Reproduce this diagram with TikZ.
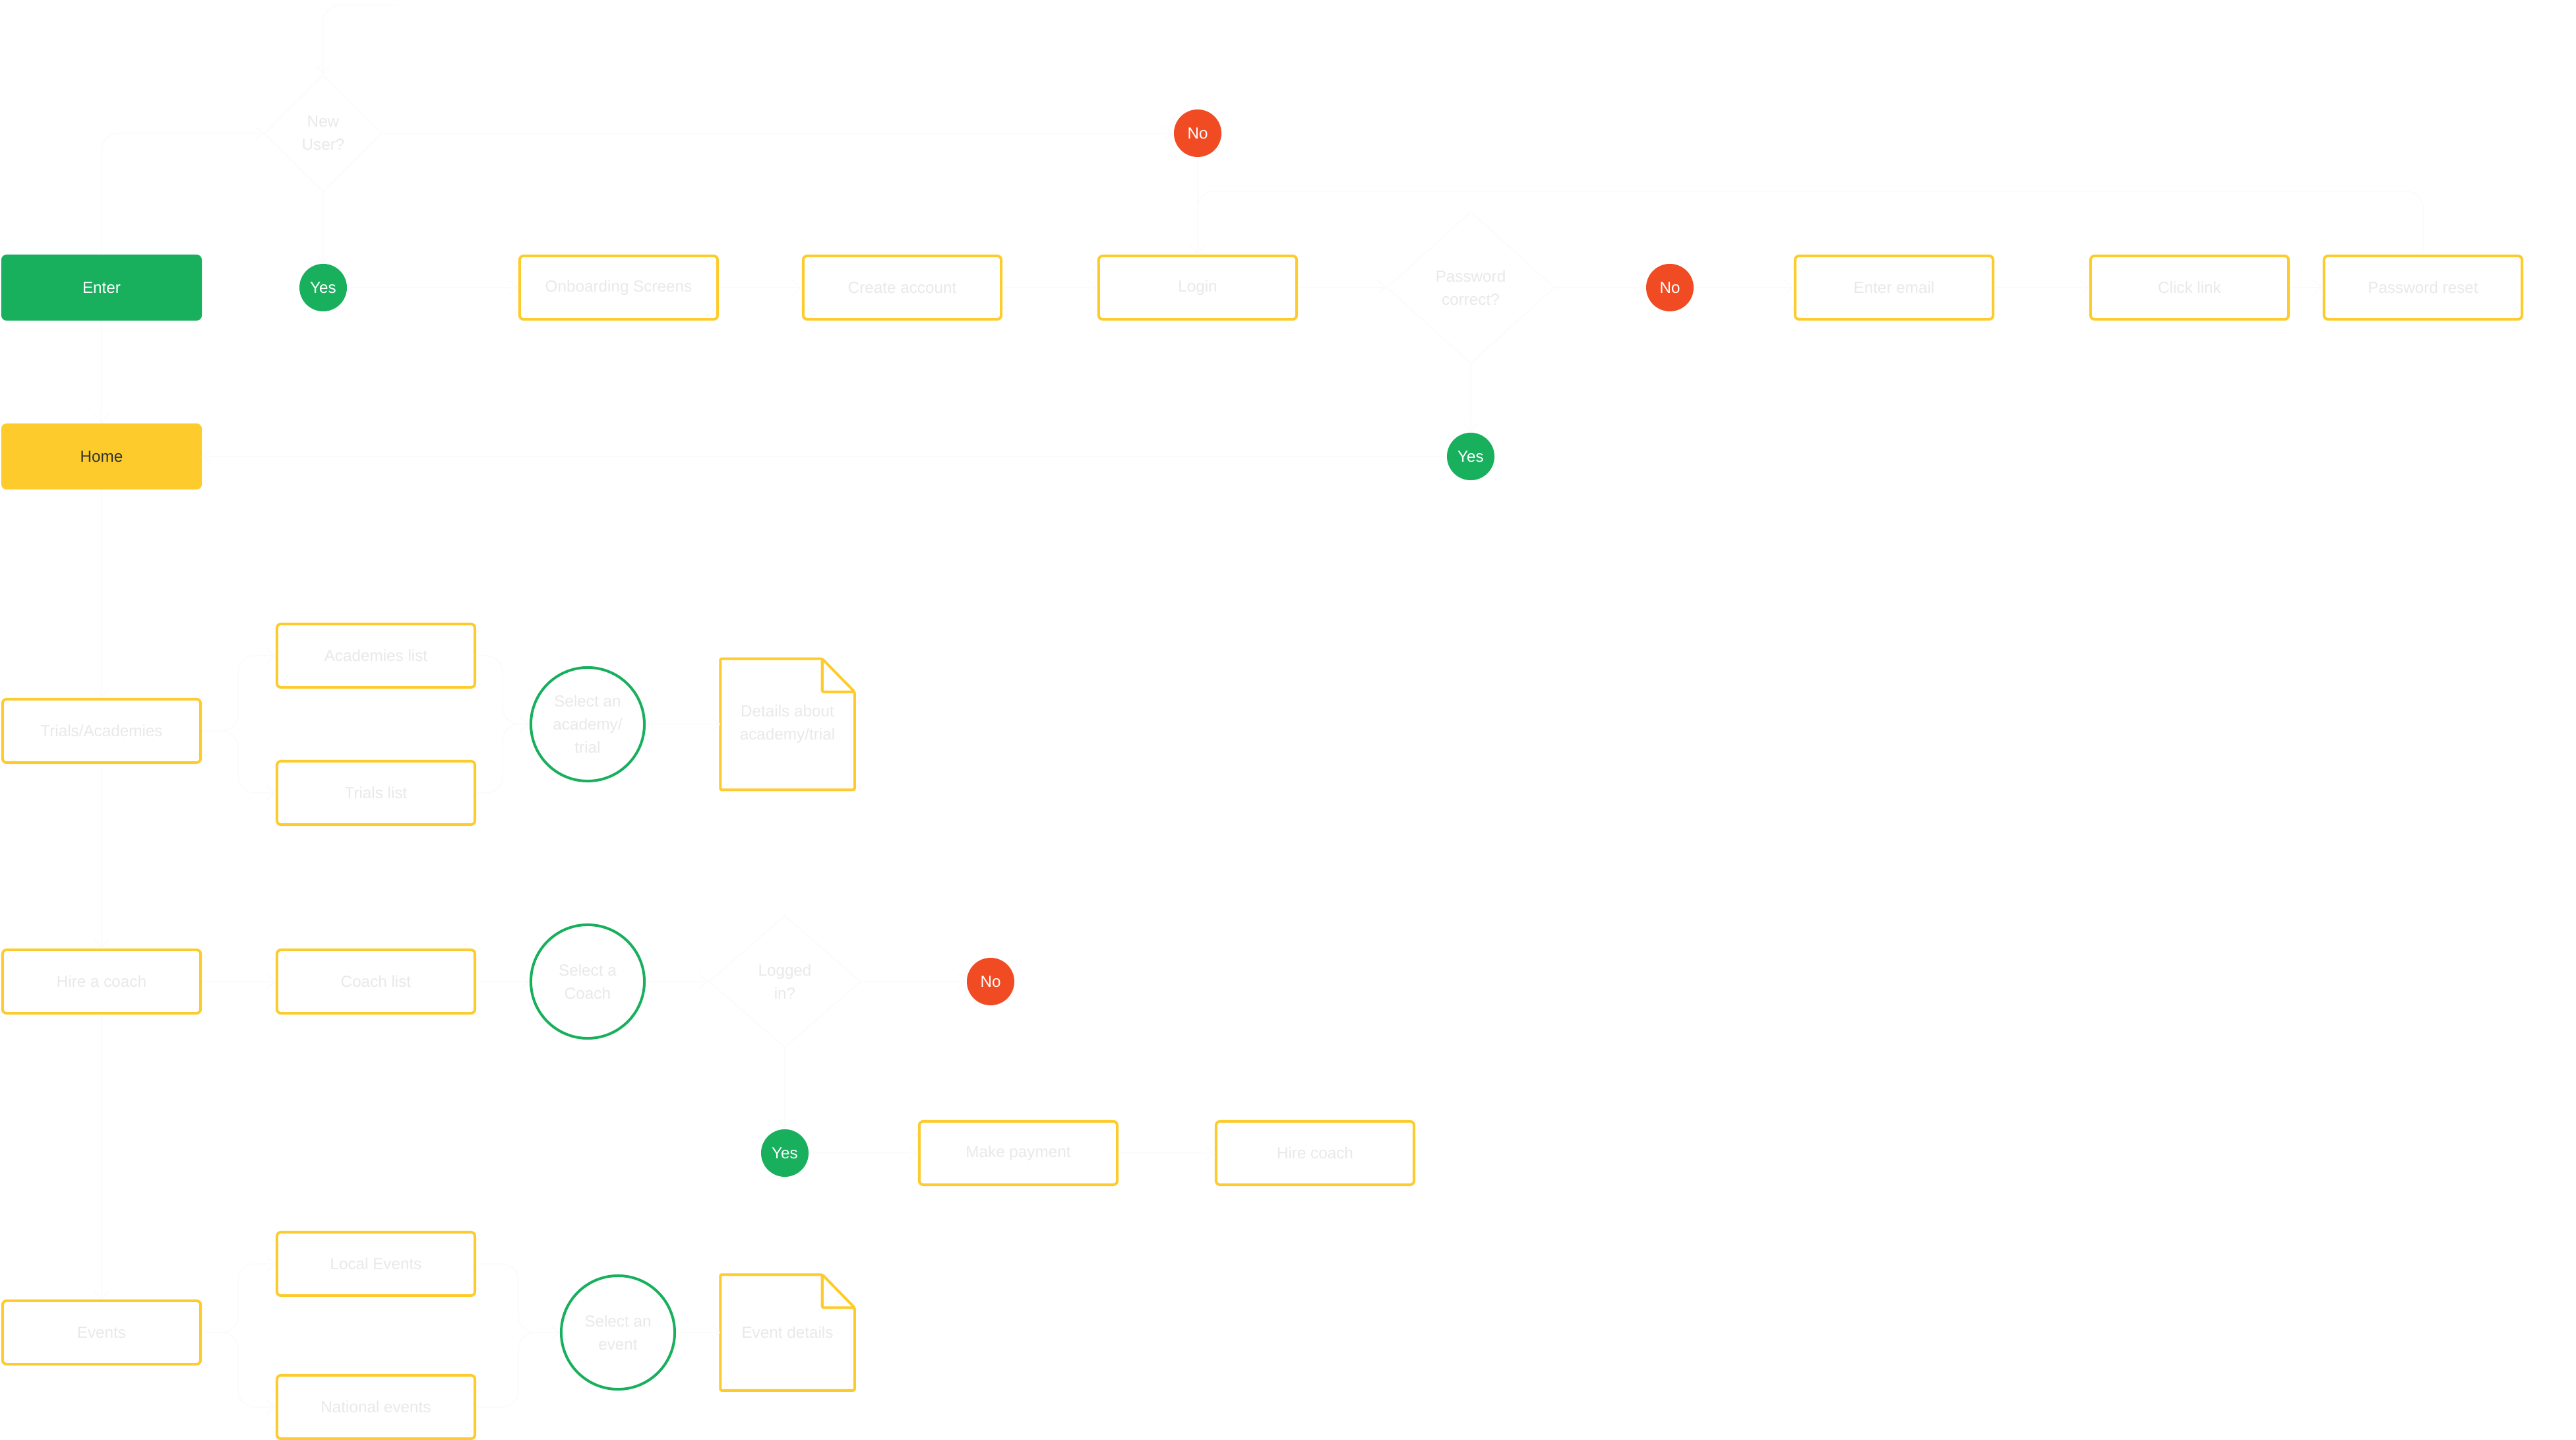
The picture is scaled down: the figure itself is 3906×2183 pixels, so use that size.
\documentclass[tikz,border=0pt]{standalone}
\usepackage{fontspec}
\setmainfont{Liberation Sans}
\usetikzlibrary{shapes.geometric,arrows.meta}
\definecolor{fgreen}{RGB}{24,175,93}
\definecolor{fyellow}{RGB}{253,204,44}
\definecolor{fred}{RGB}{240,75,35}
\definecolor{boxtext}{RGB}{233,233,233}
\definecolor{faint}{RGB}{251,251,251}
\definecolor{hometext}{RGB}{51,51,51}
\newcommand{\docoutline}[1]{%
  \draw[docline] (#1.north west) -- ([xshift=-0.49cm]#1.north east) -- ([yshift=-0.5cm]#1.north east) -- (#1.south east) -- (#1.south west) -- cycle;
  \draw[docline] ([xshift=-0.49cm]#1.north east) -- ([xshift=-0.49cm,yshift=-0.5cm]#1.north east) -- ([yshift=-0.5cm]#1.north east);}
\tikzset{
  box/.style={draw=fyellow, line width=0.04cm, rounded corners=0.06cm, minimum width=3.0cm, minimum height=0.96cm, text=boxtext, inner sep=0pt, align=center},
  solidbox/.style={rounded corners=0.08cm, minimum width=3.04cm, minimum height=1.0cm, inner sep=0pt, align=center},
  yesnode/.style={circle, fill=fgreen, text=white, minimum size=0.72cm, inner sep=0pt},
  nonode/.style={circle, fill=fred, text=white, minimum size=0.72cm, inner sep=0pt},
  selc/.style={circle, draw=fgreen, line width=0.04cm, minimum size=1.72cm, inner sep=0pt, text=boxtext, align=center},
  dec/.style={diamond, draw=faint, line width=0.015cm, inner sep=0pt, text=boxtext, align=center},
  docn/.style={minimum width=2.02cm, inner sep=0pt, text=boxtext, align=center},
  docline/.style={draw=fyellow, line width=0.04cm, line join=round, rounded corners=0.02cm},
  conn/.style={draw=faint, line width=0.015cm, -{Straight Barb[length=3.5pt,width=6pt]}, rounded corners=0.25cm}
}
\begin{document}
\begin{tikzpicture}[x=0.01cm, y=-0.01cm, font=\fontsize{6.9}{10}\selectfont]
\fill[white] (0,0) rectangle (3906,2183);
\useasboundingbox (0,0) rectangle (3906,2183);

% Row 1
\node[solidbox, fill=fgreen, text=white] (enter) at (154,436) {Enter};
\node[dec, minimum width=1.78cm, minimum height=1.77cm] (newuser) at (490,202) {New\\User?};
\node[yesnode] (yes1) at (490,436) {Yes};
\node[nonode] (no1) at (1816,202) {No};
\node[box] (onb) at (938,436) {Onboarding Screens};
\node[box] (create) at (1368,436) {Create account};
\node[box] (login) at (1816,436) {Login};
\node[dec, minimum width=2.54cm, minimum height=2.3cm] (pwd) at (2230,436) {Password\\correct?};
\node[nonode] (no2) at (2532,436) {No};
\node[box] (email) at (2872,436) {Enter email};
\node[box] (click) at (3320,436) {Click link};
\node[box] (reset) at (3674,436) {Password reset};
\node[yesnode] (yes2) at (2230,692) {Yes};
\node[solidbox, fill=fyellow, text=hometext] (home) at (154,692) {Home};

% Trials / Academies
\node[box] (trials) at (154,1108) {Trials/Academies};
\node[box] (acad) at (570,994) {Academies list};
\node[box] (tlist) at (570,1202) {Trials list};
\node[selc] (sel1) at (891,1098) {Select an\\academy/\\trial};
\node[docn, minimum height=1.97cm] (det1) at (1194,1098) {Details about\\academy/trial};
\docoutline{det1}

% Hire a coach
\node[box] (hire) at (154,1488) {Hire a coach};
\node[box] (clist) at (570,1488) {Coach list};
\node[selc] (sel2) at (891,1488) {Select a\\Coach};
\node[dec, minimum width=2.3cm, minimum height=2.0cm] (logged) at (1190,1488) {Logged\\in?};
\node[nonode] (no3) at (1502,1488) {No};
\node[yesnode] (yes3) at (1190,1748) {Yes};
\node[box] (pay) at (1544,1748) {Make payment};
\node[box] (hirec) at (1994,1748) {Hire coach};

% Events
\node[box] (events) at (154,2020) {Events};
\node[box] (local) at (570,1916) {Local Events};
\node[box] (national) at (570,2133) {National events};
\node[selc] (sel3) at (937,2020) {Select an\\event};
\node[docn, minimum height=1.74cm] (det2) at (1194,2020) {Event details};
\docoutline{det2}

% helper coordinates
\coordinate (rtop) at (1816,290);
\coordinate (topin) at (600,8);

% connectors
\draw[conn] (topin) -| (newuser.north);
\draw[conn] (enter.north) |- (newuser.west);
\draw[conn] (newuser.south) -- (yes1.north);
\draw[conn] (newuser.east) -- (no1.west);
\draw[conn] (no1.south) -- (login.north);
\draw[conn] (yes1.east) -- (onb.west);
\draw[conn] (onb.east) -- (create.west);
\draw[conn] (create.east) -- (login.west);
\draw[conn] (login.east) -- (pwd.west);
\draw[conn] (pwd.east) -- (no2.west);
\draw[conn] (no2.east) -- (email.west);
\draw[conn] (email.east) -- (click.west);
\draw[conn] (click.east) -- (reset.west);
\draw[conn] (reset.north) |- (rtop) -- (login.north);
\draw[conn] (pwd.south) -- (yes2.north);
\draw[conn] (yes2.west) -- (home.east);
\draw[conn] (enter.south) -- (home.north);
\draw[conn] (home.south) -- (trials.north);
\draw[conn] (trials.south) -- (hire.north);
\draw[conn] (hire.south) -- (events.north);

\draw[conn] (trials.east) -- ++(55,0) |- (acad.west);
\draw[conn] (trials.east) -- ++(55,0) |- (tlist.west);
\draw[conn] (acad.east) -- ++(40,0) |- (sel1.west);
\draw[conn] (tlist.east) -- ++(40,0) |- (sel1.west);
\draw[conn] (sel1.east) -- (det1.west);

\draw[conn] (hire.east) -- (clist.west);
\draw[conn] (clist.east) -- (sel2.west);
\draw[conn] (sel2.east) -- (logged.west);
\draw[conn] (logged.east) -- (no3.west);
\draw[conn] (logged.south) -- (yes3.north);
\draw[conn] (yes3.east) -- (pay.west);
\draw[conn] (pay.east) -- (hirec.west);

\draw[conn] (events.east) -- ++(55,0) |- (local.west);
\draw[conn] (events.east) -- ++(55,0) |- (national.west);
\draw[conn] (local.east) -- ++(64,0) |- (sel3.west);
\draw[conn] (national.east) -- ++(64,0) |- (sel3.west);
\draw[conn] (sel3.east) -- (det2.west);
\end{tikzpicture}
\end{document}
